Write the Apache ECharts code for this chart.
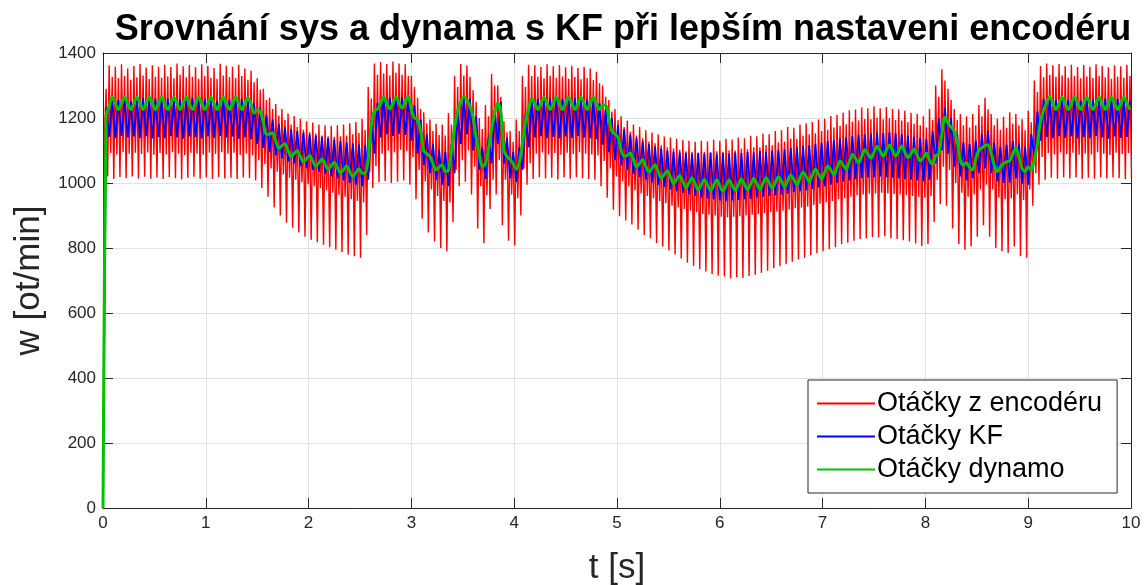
<!DOCTYPE html>
<html>
<head>
<meta charset="utf-8">
<script src="https://cdn.jsdelivr.net/npm/echarts@6/dist/echarts.min.js"></script>
<style>
  html, body { margin: 0; padding: 0; background: #ffffff; }
  #chart { width: 1144px; height: 585px; }
</style>
</head>
<body>
<div id="chart"></div>
<script>
// Sample spacing of the stored signals [s]
const ENCODER_SAMPLE_PERIOD = 0.015;
const SAMPLE_PERIOD = 0.03;

// Axis ticks
const timeTicks = [0, 1, 2, 3, 4, 5, 6, 7, 8, 9, 10];
const rpmTicks = [0, 200, 400, 600, 800, 1000, 1200, 1400];

// Series names
const seriesNames = ['Otáčky z encodéru', 'Otáčky KF', 'Otáčky dynamo'];

// Speed measured by the encoder [ot/min]; one ripple period per row of four
// samples: upper spike, low edge of the dense band, high edge, lower spike.
const encoderRpm = [
  0,1150,1290,1020, 1362,1092,1327,1012, 1358,1088,1323,1018, 1365,1095,1330,1015, 1352,1090,1318,1020,
  1360,1093,1325,1014, 1366,1089,1331,1019, 1355,1094,1320,1013, 1362,1087,1327,1017, 1358,1092,1324,1012,
  1364,1088,1328,1018, 1357,1095,1322,1015, 1368,1090,1333,1011, 1359,1086,1325,1016, 1363,1093,1327,1019,
  1356,1091,1321,1013, 1365,1087,1330,1017, 1360,1094,1324,1012, 1354,1089,1320,1018, 1367,1095,1331,1014,
  1361,1090,1326,1016, 1358,1093,1323,1012, 1364,1086,1329,1017, 1352,1091,1318,1015, 1345,1085,1310,1008,
  1322,1070,1287,985, 1290,1058,1255,958, 1262,1045,1228,925, 1243,1035,1208,900, 1228,1026,1194,878,
  1214,1016,1180,862, 1206,1010,1172,848, 1198,1002,1164,835, 1190,996,1156,825, 1186,990,1152,818,
  1180,984,1146,810, 1178,978,1144,802, 1176,970,1142,795, 1178,964,1144,788, 1180,958,1146,780,
  1184,950,1150,775, 1188,945,1154,770, 1198,940,1163,840, 1295,1035,1260,985, 1368,1052,1333,1002,
  1372,1090,1337,1006, 1366,1100,1331,1000, 1374,1095,1339,1004, 1368,1102,1333,1008, 1365,1098,1330,995,
  1330,1080,1295,950, 1262,1040,1228,890, 1218,1005,1184,848, 1195,980,1160,820, 1182,960,1148,800,
  1180,945,1146,790, 1215,940,1180,880, 1330,1040,1295,990, 1366,1070,1331,1004, 1362,1100,1327,965,
  1285,1050,1250,860, 1200,990,1166,815, 1240,962,1205,920, 1335,1010,1300,965, 1300,1070,1265,870,
  1190,1010,1156,822, 1160,965,1126,808, 1195,953,1160,900, 1330,1045,1295,995, 1364,1060,1329,1012,
  1362,1090,1327,1018, 1357,1094,1322,1014, 1365,1088,1330,1016, 1359,1092,1324,1011, 1363,1087,1328,1017,
  1356,1093,1321,1013, 1361,1089,1326,1018, 1354,1095,1319,1015, 1358,1090,1323,1012, 1352,1088,1317,1010,
  1342,1085,1307,990, 1300,1068,1265,955, 1255,1045,1220,918, 1228,1020,1194,898, 1205,1005,1172,885,
  1192,990,1158,872, 1180,978,1146,856, 1172,968,1138,840, 1162,960,1128,830, 1155,952,1122,815,
  1150,945,1116,805, 1143,938,1110,792, 1140,930,1106,780, 1136,925,1102,768, 1132,920,1098,755,
  1130,915,1096,745, 1127,910,1094,735, 1130,905,1096,728, 1128,902,1094,720, 1133,900,1098,715,
  1130,896,1096,712, 1136,894,1101,706, 1134,896,1100,710, 1140,898,1105,708, 1138,900,1104,714,
  1145,902,1110,718, 1144,905,1110,724, 1152,908,1117,730, 1150,910,1116,738, 1160,912,1125,745,
  1162,915,1128,750, 1172,918,1137,758, 1170,922,1136,765, 1180,925,1145,770, 1184,928,1150,778,
  1188,932,1153,784, 1195,936,1160,790, 1198,940,1164,796, 1206,945,1171,802, 1210,950,1176,812,
  1216,954,1181,816, 1224,958,1189,822, 1226,962,1192,828, 1232,965,1197,830, 1230,967,1196,834,
  1236,968,1201,832, 1230,970,1196,836, 1234,968,1199,830, 1228,966,1194,828, 1226,965,1192,824,
  1222,962,1188,820, 1216,960,1182,814, 1212,958,1178,806, 1205,955,1171,812, 1228,960,1194,880,
  1300,1010,1265,935, 1350,1050,1315,930, 1290,1040,1256,860, 1228,1000,1194,812, 1212,970,1178,795,
  1205,958,1171,805, 1212,965,1178,835, 1240,980,1205,870, 1262,995,1227,835, 1212,980,1178,800,
  1198,955,1164,790, 1204,950,1170,785, 1218,952,1183,805, 1212,965,1178,775, 1196,948,1162,770,
  1222,980,1187,930, 1315,1030,1280,995, 1360,1080,1325,1010, 1368,1092,1333,1016, 1362,1088,1327,1013,
  1366,1094,1331,1018, 1359,1089,1324,1014, 1364,1093,1329,1017, 1357,1087,1322,1012, 1363,1091,1328,1016,
  1358,1088,1323,1013, 1365,1095,1330,1018, 1360,1090,1325,1014, 1356,1086,1321,1017, 1362,1093,1327,1015,
  1359,1089,1324,1012, 1364,1092,1329,1015
];

// Kalman filter estimate [ot/min]
const kfRpm = [
  0,1230,1142,1258,1138,1255,1145,1260,1140,1252,
  1143,1257,1139,1261,1144,1254,1137,1259,1142,1256,
  1138,1260,1145,1253,1140,1258,1136,1255,1143,1261,
  1141,1254,1137,1259,1144,1257,1139,1252,1145,1260,
  1140,1256,1143,1254,1136,1258,1141,1250,1135,1245,
  1120,1232,1108,1210,1095,1195,1085,1182,1076,1172,
  1066,1165,1060,1160,1052,1155,1046,1150,1040,1146,
  1034,1142,1028,1138,1020,1134,1014,1130,1008,1126,
  1000,1122,995,1118,990,1116,1010,1195,1090,1245,
  1140,1266,1150,1262,1145,1268,1152,1264,1148,1262,
  1130,1240,1090,1195,1055,1150,1030,1120,1010,1100,
  995,1096,990,1120,1030,1220,1120,1262,1150,1258,
  1100,1205,1040,1110,1012,1140,1060,1225,1120,1250,
  1060,1140,1015,1095,1003,1110,1040,1210,1110,1255,
  1140,1258,1144,1253,1138,1260,1142,1255,1137,1259,
  1143,1254,1139,1261,1145,1256,1140,1257,1138,1252,
  1135,1245,1118,1225,1095,1200,1070,1178,1055,1165,
  1040,1150,1028,1138,1018,1128,1010,1120,1002,1112,
  995,1106,988,1100,980,1096,975,1094,970,1092,
  965,1090,960,1092,955,1090,952,1094,950,1090,
  946,1092,944,1090,946,1094,948,1092,950,1095,
  952,1094,955,1098,958,1096,960,1100,962,1102,
  965,1104,968,1108,972,1110,975,1114,978,1116,
  982,1120,986,1124,990,1128,995,1132,1000,1136,
  1004,1140,1008,1144,1012,1148,1015,1150,1017,1152,
  1018,1155,1020,1153,1018,1156,1016,1152,1015,1150,
  1012,1146,1010,1142,1008,1138,1005,1135,1010,1160,
  1060,1200,1100,1232,1090,1200,1050,1150,1020,1125,
  1008,1120,1015,1130,1030,1150,1045,1160,1030,1125,
  1005,1112,1000,1118,1002,1130,1015,1122,998,1110,
  995,1150,1080,1220,1130,1258,1142,1262,1138,1255,
  1144,1259,1139,1256,1143,1261,1137,1254,1141,1258,
  1138,1257,1145,1253,1140,1260,1136,1255,1143,1259,
  1139,1256,1142,1254
];

// Speed from the tachogenerator (dynamo) [ot/min]
const dynamoRpm = [
  0,1205,1238,1264,1245,1226,1245,1264,1245,1226,
  1245,1264,1245,1226,1245,1264,1245,1226,1245,1264,
  1245,1226,1245,1264,1245,1226,1245,1264,1245,1226,
  1245,1264,1245,1226,1245,1264,1245,1226,1245,1264,
  1245,1226,1245,1264,1245,1226,1245,1262,1243,1215,
  1225,1220,1185,1150,1150,1155,1130,1107,1115,1121,
  1100,1082,1091,1100,1082,1065,1074,1085,1068,1052,
  1062,1074,1058,1042,1053,1064,1047,1031,1041,1052,
  1035,1020,1032,1044,1030,1030,1075,1180,1222,1228,
  1245,1264,1245,1228,1246,1265,1246,1230,1250,1266,
  1225,1200,1195,1160,1100,1090,1082,1060,1040,1050,
  1055,1035,1040,1100,1170,1222,1250,1265,1255,1236,
  1200,1140,1090,1050,1060,1105,1165,1215,1248,1215,
  1100,1082,1072,1060,1042,1065,1120,1190,1228,1260,
  1245,1226,1245,1264,1245,1226,1245,1264,1245,1226,
  1245,1264,1245,1226,1245,1264,1245,1226,1245,1264,
  1245,1226,1238,1240,1200,1160,1150,1140,1100,1082,
  1085,1092,1072,1050,1060,1072,1052,1033,1045,1056,
  1035,1015,1026,1038,1018,998,1011,1023,1005,986,
  1000,1016,997,979,995,1011,994,976,993,1010,
  992,975,992,1009,993,977,994,1012,996,979,
  997,1014,998,981,999,1016,1001,984,1002,1019,
  1005,988,1007,1025,1011,995,1015,1034,1020,1004,
  1024,1042,1028,1012,1032,1052,1040,1025,1048,1068,
  1055,1042,1066,1088,1076,1062,1082,1102,1090,1076,
  1095,1113,1098,1082,1100,1117,1100,1082,1098,1114,
  1095,1078,1090,1105,1085,1068,1078,1092,1070,1058,
  1085,1090,1150,1202,1185,1172,1160,1125,1070,1055,
  1062,1048,1040,1075,1100,1108,1115,1118,1090,1055,
  1035,1050,1060,1065,1068,1090,1108,1080,1045,1035,
  1050,1040,1070,1123,1190,1225,1248,1265,1245,1226,
  1245,1264,1245,1226,1245,1264,1245,1226,1245,1264,
  1245,1226,1245,1264,1245,1226,1245,1264,1245,1226,
  1245,1264,1245,1226
];

// Pair each sample with its time stamp
function withTime(values, period) {
  return values.map((v, i) => [+(i * period).toFixed(3), v]);
}

const FONT = "'Liberation Sans', Arial, Helvetica, sans-serif";
const AXIS_COLOR = '#262626';
const GRID_COLOR = '#e2e2e2';
const RED = '#ff0000', BLUE = '#0000ff', GREEN = '#00c400';

const tMin = timeTicks[0], tMax = timeTicks[timeTicks.length - 1];
const tStep = timeTicks[1] - timeTicks[0];
const wMin = rpmTicks[0], wMax = rpmTicks[rpmTicks.length - 1];
const wStep = rpmTicks[1] - rpmTicks[0];

const tickStyle = { show: true, inside: true, length: 10, lineStyle: { color: AXIS_COLOR, width: 1 } };
const lineStyleAxis = { show: true, onZero: false, lineStyle: { color: AXIS_COLOR, width: 1 } };

const chart = echarts.init(document.getElementById('chart'), null, { renderer: 'canvas' });

chart.setOption({
  animation: false,
  backgroundColor: '#ffffff',
  textStyle: { fontFamily: FONT },
  title: {
    text: 'Srovnání sys a dynama s KF při lepším nastaveni encodéru',
    left: 618,
    textAlign: 'center',
    top: 7,
    textStyle: { fontFamily: FONT, fontSize: 36, fontWeight: 'bold', color: '#000000' }
  },
  grid: { left: 103, right: 13, top: 53, bottom: 77, containLabel: false, outerBoundsMode: 'none' },
  legend: {
    orient: 'vertical',
    left: 808,
    top: 380,
    padding: [10, 15, 10, 8],
    itemWidth: 58,
    itemHeight: 14,
    itemGap: 6,
    backgroundColor: '#ffffff',
    borderColor: AXIS_COLOR,
    borderWidth: 1,
    borderRadius: 0,
    itemStyle: { opacity: 0 },
    textStyle: { fontFamily: FONT, fontSize: 27, lineHeight: 27, color: '#000000', padding: [0, 0, 0, -3] },
    data: seriesNames
  },
  xAxis: [
    {
      type: 'value', min: tMin, max: tMax, interval: tStep, position: 'bottom',
      axisLine: lineStyleAxis, axisTick: tickStyle,
      axisLabel: { fontFamily: FONT, fontSize: 17, color: AXIS_COLOR, margin: 7, formatter: (v) => String(v) },
      splitLine: { show: true, lineStyle: { color: GRID_COLOR, width: 1 } },
      name: 't [s]', nameLocation: 'middle', nameGap: 43,
      nameTextStyle: { fontFamily: FONT, fontSize: 35, color: AXIS_COLOR }
    },
    {
      type: 'value', min: tMin, max: tMax, interval: tStep, position: 'top',
      axisLine: lineStyleAxis, axisTick: tickStyle,
      axisLabel: { show: false }, splitLine: { show: false }
    }
  ],
  yAxis: [
    {
      type: 'value', min: wMin, max: wMax, interval: wStep, position: 'left',
      axisLine: lineStyleAxis, axisTick: tickStyle,
      axisLabel: { fontFamily: FONT, fontSize: 17, color: AXIS_COLOR, margin: 7, formatter: (v) => String(v) },
      splitLine: { show: true, lineStyle: { color: GRID_COLOR, width: 1 } },
      name: 'w [ot/min]', nameLocation: 'middle', nameGap: 55, nameRotate: 90,
      nameTextStyle: { fontFamily: FONT, fontSize: 35, color: AXIS_COLOR }
    },
    {
      type: 'value', min: wMin, max: wMax, interval: wStep, position: 'right',
      axisLine: lineStyleAxis, axisTick: tickStyle,
      axisLabel: { show: false }, splitLine: { show: false }
    }
  ],
  series: [
    {
      name: seriesNames[0], type: 'line', xAxisIndex: 0, yAxisIndex: 0,
      data: withTime(encoderRpm, ENCODER_SAMPLE_PERIOD), showSymbol: false, symbol: 'none',
      lineStyle: { color: RED, width: 1.4 }, itemStyle: { color: RED },
      z: 2
    },
    {
      name: seriesNames[1], type: 'line', xAxisIndex: 0, yAxisIndex: 0,
      data: withTime(kfRpm, SAMPLE_PERIOD), showSymbol: false, symbol: 'none',
      lineStyle: { color: BLUE, width: 1.8 }, itemStyle: { color: BLUE },
      z: 3
    },
    {
      name: seriesNames[2], type: 'line', xAxisIndex: 0, yAxisIndex: 0,
      data: withTime(dynamoRpm, SAMPLE_PERIOD), showSymbol: false, symbol: 'none',
      smooth: 0.3,
      lineStyle: { color: GREEN, width: 3 }, itemStyle: { color: GREEN },
      z: 4
    }
  ]
});
</script>
</body>
</html>
